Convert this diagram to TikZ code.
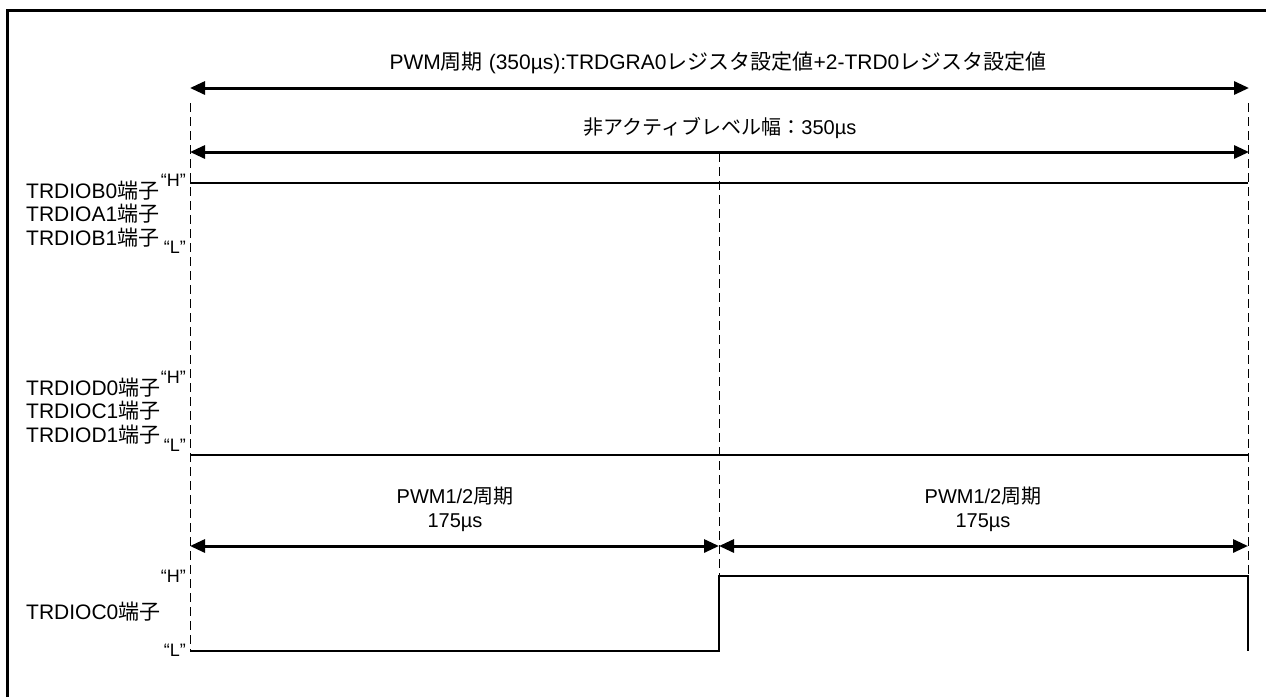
\documentclass[tikz,border=0pt]{standalone}
\usepackage{fontspec}
\setmainfont{Liberation Sans}
\newfontfamily\jpfont{Noto Sans CJK JP}
\newcommand{\jp}[1]{{\jpfont #1}}
\usetikzlibrary{positioning}
\usetikzlibrary{arrows.meta}
\tikzset{
  level/.style={line width=1.4pt},
  guide/.style={line width=1pt,dash pattern=on 9pt off 5pt},
  span/.style={line width=3pt,{Triangle[length=15pt,width=13pt]}-{Triangle[length=15pt,width=13pt]}},
  txt/.style={inner sep=0,font=\fontsize{20}{24}\selectfont},
  pin/.style={inner sep=0,anchor=west,align=left,font=\fontsize{21}{23.5}\selectfont},
  hl/.style={inner sep=0,anchor=east,font=\fontsize{18}{20}\selectfont}
}

\begin{document}
\begin{tikzpicture}[x=1pt,y=-1pt]
  \useasboundingbox (0,0) rectangle (1266,697);
  % frame
  \draw[line width=3pt] (7,697) -- (7,10) -- (1266,10);

  % time marks
  \coordinate (g0) at (190,103);
  \coordinate (gm) at (719,153);
  \coordinate (g1) at (1248,103);

  % period arrows
  \coordinate (a0) at (190,88);
  \coordinate (a1) at (1249,88);
  \coordinate (b0) at (190,152);
  \coordinate (b1) at (1249,152);
  \draw[span] (a0) -- (a1);
  \draw[span] (b0) -- (b1);
  \node[txt,font=\fontsize{21}{24}\selectfont] (period) at (718,63) {PWM\jp{周期} (350µs):TRDGRA0\jp{レジスタ設定値}+2-TRD0\jp{レジスタ設定値}};
  \node[txt] (inact) at (720,128) {\jp{非アクティブレベル幅：}350µs};

  % TRDIOB0, TRDIOA1, TRDIOB1
  \coordinate (s0) at (190,183);
  \coordinate (s1) at (1248,183);
  \draw[level] (s0) -- (s1);
  \node[pin] (pinb) at (26,214) {TRDIOB0\jp{端子}\\TRDIOA1\jp{端子}\\TRDIOB1\jp{端子}};
  \node[hl] (hb) at (186,180) {“H”};
  \node[hl] (lb) at (186,247) {“L”};

  % TRDIOD0, TRDIOC1, TRDIOD1
  \coordinate (u0) at (190,455);
  \coordinate (u1) at (1248,455);
  \draw[level] (u0) -- (u1);
  \node[pin] (pind) at (26,411) {TRDIOD0\jp{端子}\\TRDIOC1\jp{端子}\\TRDIOD1\jp{端子}};
  \node[hl] (hd) at (186,377) {“H”};
  \node[hl] (ld) at (186,445) {“L”};

  % half periods
  \coordinate (h0) at (190,546);
  \coordinate (hm) at (719,546);
  \coordinate (h1) at (1248,546);
  \draw[span] (h0) -- (hm);
  \draw[span] (hm) -- (h1);
  \node[txt,align=center] (half0) at (455,509) {PWM1/2\jp{周期}\\175µs};
  \node[txt,align=center] (half1) at (983,509) {PWM1/2\jp{周期}\\175µs};

  % TRDIOC0
  \coordinate (c0) at (190,651);
  \coordinate (cm) at (719,651);
  \coordinate (cn) at (719,576);
  \coordinate (c1) at (1248,576);
  \coordinate (c2) at (1248,651);
  \draw[level] (c0) -- (cm) -- (cn) -- (c1) -- (c2);
  \node[pin] (pinc) at (26,612) {TRDIOC0\jp{端子}};
  \node[hl] (hc) at (186,576) {“H”};
  \node[hl] (lc) at (186,650) {“L”};

  % guides
  \draw[guide] (g0) -- (c0);
  \draw[guide] (gm) -- (cn);
  \draw[guide] (g1) -- (c1);
\end{tikzpicture}
\end{document}
